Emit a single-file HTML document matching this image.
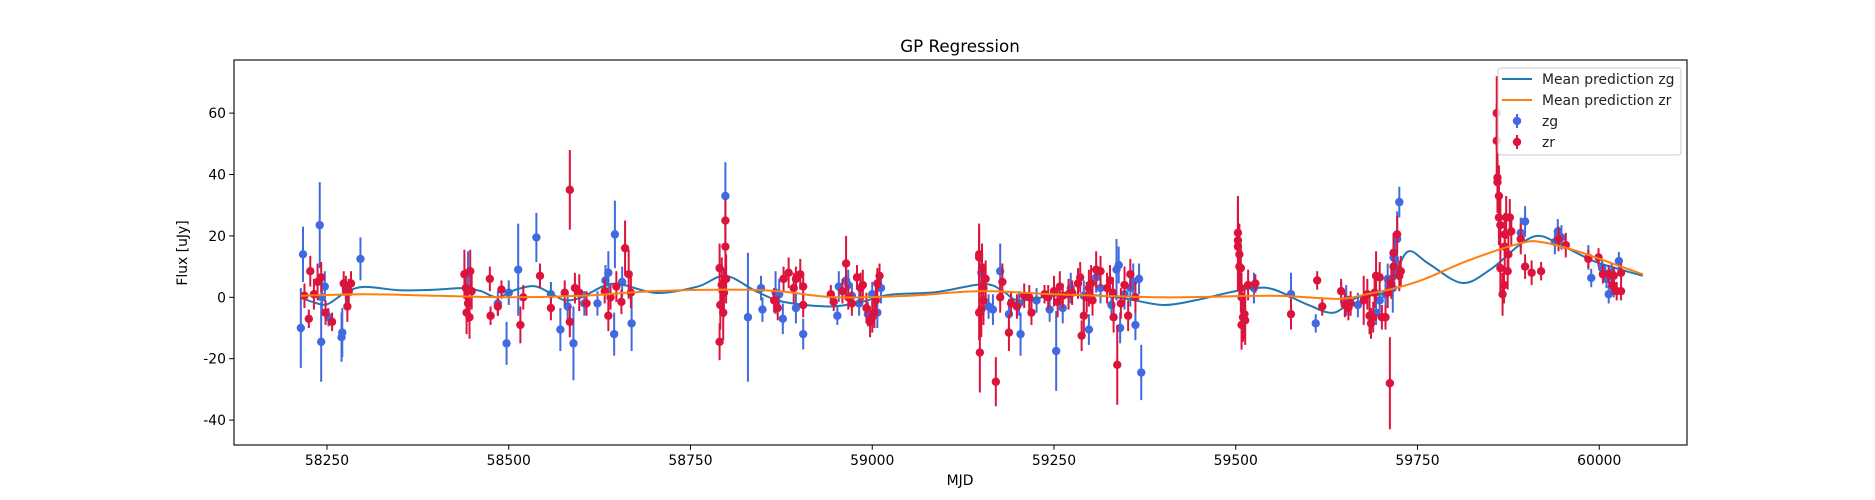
<!DOCTYPE html>
<html><head><meta charset="utf-8"><style>
html,body{margin:0;padding:0;background:#fff;}
svg{display:block;font-family:"DejaVu Sans","Liberation Sans",sans-serif;}
</style></head><body>
<svg id="chart" width="1875" height="500" viewBox="0 0 1875 500">
<rect x="0" y="0" width="1875" height="500" fill="#fff"/>
<text x="960" y="52" font-size="16.7" text-anchor="middle" fill="#000">GP Regression</text>
<g id="plot"></g>
<text x="960" y="485" font-size="13.9" text-anchor="middle">MJD</text>
<text transform="translate(187,253) rotate(-90)" font-size="13.9" text-anchor="middle">Flux [uJy]</text>
</svg>
<script>
const zgMjd=[58214,58217,58240,58242,58243,58247,58252,58270,58271,58276,58296,58444,58485,58497,58500,58513,58538,58558,58571,58581,58589,58604,58622,58633,58637,58645,58646,58656,58669,58798,58829,58847,58849,58867,58872,58877,58895,58905,58952,58954,58964,58967,58972,58982,58994,59000,59007,59012,59150,59160,59166,59176,59188,59202,59204,59226,59244,59253,59262,59273,59291,59298,59308,59314,59329,59336,59339,59341,59347,59355,59359,59362,59367,59370,59525,59576,59610,59645,59652,59668,59693,59698,59706,59709,59716,59717,59719,59722,59725,59892,59898,59939,59943,59948,59985,59989,60004,60010,60013,60017,60020,60027];
const zgFlux=[-10,14,23.5,-14.5,0,3.5,-6.5,-13,-11.5,2,12.5,8,-2,-15,1.5,9,19.5,1,-10.5,-3,-15,-2,-2,5.5,8,-12,20.5,5,-8.5,33,-6.5,3,-4,1.5,1,-7,-3.5,-12,-6,3.5,5.5,4,0.5,-2,-5.5,1,-5,3,8,-3,-4,8.5,-5.5,-2,-12,-1,-4,-17.5,-3.5,3,0.5,-10.5,6.5,3,-2.5,9,10.5,-10,1,3,5,-9,6,-24.5,3,1,-8.5,2,-1,-2.5,-5,-1,1,6,3,13,12.5,19,31,21,24.7,18,21.5,19.5,13,6.3,9.4,6,1,8,3,11.8];
const zgErr=[13,9,14,13,6,5,3,8,8,4,7,7,4,7,4,15,8,4,7,4,12,4,4,5,7,7,11,5,9,11,21,4,4,7,5,5,5,5,3,5,6,5,4,4,4,4,5,5,7,4,5,9,5,4,7,4,4,13,5,5,5,5,5,5,4,10,6,5,5,6,6,5,5,9,5,7,3,3,5,4,4,4,5,5,8,8,7,9,5,5,5,4,4,4,4,3,3,3,3,3,3,3];
const zrMjd=[58219,58225,58227,58232,58237,58242,58248,58257,58273,58276,58278,58280,58283,58439,58441,58442,58444,58446,58447,58449,58474,58475,58485,58490,58516,58520,58543,58558,58577,58584,58591,58597,58584,58607,58632,58637,58640,58655,58660,58665,58648,58668,58790,58790,58791,58793,58795,58796,58798,58798,58799,58865,58870,58878,58885,58892,58895,58901,58905,58905,58943,58947,58959,58964,58967,58972,58979,58984,58987,58992,58997,59000,59003,59005,59007,59010,59147,59147,59147,59148,59150,59151,59153,59156,59153,59170,59176,59179,59188,59191,59199,59209,59216,59219,59237,59242,59250,59255,59258,59262,59270,59275,59283,59286,59288,59291,59295,59298,59301,59303,59308,59314,59323,59327,59331,59332,59337,59342,59347,59352,59355,59362,59503,59503,59503,59505,59505,59507,59507,59508,59508,59510,59512,59513,59517,59527,59576,59612,59619,59645,59650,59655,59658,59676,59681,59684,59686,59689,59691,59693,59698,59701,59706,59709,59712,59714,59717,59717,59722,59725,59727,59859,59859,59860,59860,59862,59862,59864,59864,59867,59869,59870,59870,59872,59874,59875,59877,59879,59892,59898,59907,59920,59944,59954,59985,59999,60005,60013,60018,60020,60024,60030,60030];
const zrFlux=[0.5,-7,8.5,1,5,6.5,-5,-8,4.5,3,-3,2,4.5,7.5,3,-5,-2,-6.5,8.5,2,6,-6,-3,2.5,-9,0,7,-3.5,1.5,35,3,1.5,-8,-2,2,-6,0,-1.5,16,7.5,3.5,1.5,9.5,-14.5,-2.5,4,-5,1.5,25,16.5,6,-1,-3.5,6,8,3,6,7.5,3.5,-2.5,1,-1.5,2,11,0,-2,6.5,3,4,-3.5,-8,-6.5,-5,-1,4.5,7,14,13,-5,-18,-4,9.5,3,6,-1,-27.5,0,5,-11.5,-2,-3,0.5,0,-5,1,0,2,-1.5,3.5,0.5,1,1.5,4.5,6.5,-12.5,-6,0,3,4.5,-1,9,8.5,3,5.5,1.5,-6.5,-22,-2,4,-6,7.5,0,16.5,18.5,21,14,10,9.5,3,0,-9,-6.5,-5.5,-7.5,4,4.5,-5.5,5.5,-3,2,-2.5,-3.5,-2,-1,1,-6,-8.5,-6.5,1.5,7,6.5,-6.5,-6.5,1.5,-28,4.5,10,14.5,20.5,7,8.5,60,51,39,37.5,33,26,23.5,9.5,1,4,16.5,20.5,26,8.5,14,26,21.5,19,10,8,8.5,19,17,12.5,13,7.5,7.5,4,7,2,8,2];
const zrErr=[4,3,5,5,6,5,4,3,4,4,5,4,4,8,6,7,6,7,7,6,4,3,3,3,6,4,4,4,4,13,5,6,5,4,4,5,4,4,9,8,5,5,8,6,8,9,9,8,7,9,8,4,4,4,5,5,4,5,4,4,3,3,4,9,4,4,4,5,5,5,5,5,5,5,5,4,10,9,9,13,9,8,8,6,8,8,5,6,6,4,4,4,4,4,3,4,5,5,5,4,5,4,5,5,5,6,5,6,6,5,6,5,5,5,5,5,13,5,6,5,5,5,13,13,12,10,10,8,8,8,8,8,8,8,5,3,5,3,3,4,4,4,4,8,5,6,5,5,5,8,5,4,4,5,15,5,7,6,6,5,5,12,12,10,10,10,9,9,8,7,6,7,7,7,6,6,6,5,5,4,4,3,4,4,3,3,3,3,3,3,3,3,3];
const zgPredMjd=[58214,58230,58250,58275,58301,58350,58400,58437,58462,58484,58510,58536,58560,58578,58600,58634,58658,58704,58760,58798,58840,58878,58942,58985,59023,59088,59153,59180,59201,59250,59303,59350,59400,59444,59490,59525,59553,59600,59635,59667,59705,59720,59738,59765,59811,59850,59890,59915,59940,59990,60030,60060];
const zgPredFlux=[0,-1.5,-2.3,1.5,3.4,2.3,2.5,3,2,0,2.5,3.6,1,-1,0,4,4,1.4,3.5,7,2,-1.5,-3,-1.5,0.8,1.7,4.3,2,-1,0.5,0.7,-0.5,-2.5,-1,1.5,3,2.5,-2.5,-5,0,1.5,8,15,11,4.7,9,17,20,18,12,9,7];
const zrPredMjd=[58214,58300,58400,58500,58600,58700,58800,58870,58950,59050,59150,59250,59400,59550,59640,59680,59720,59760,59820,59890,59920,59970,60030,60060];
const zrPredFlux=[0.5,1,0.5,0,0.5,2,2.5,2,0,0.5,2,1,0,0.5,-0.5,1,3,6,12,17.5,18,15,10,7.5];
const xTicks=[58250,58500,58750,59000,59250,59500,59750,60000];
const yTicks=[-40,-20,0,20,40,60];

const NS="http://www.w3.org/2000/svg";
const L=234,R=1687,T=60,B=445;
const xs=m=>327+(m-58250)*0.7270;
const ys=v=>297.3-v*3.07;
const g=document.getElementById('plot');
function mk(tag,attrs,parent){const e=document.createElementNS(NS,tag);for(const k in attrs)e.setAttribute(k,attrs[k]);(parent||g).appendChild(e);return e;}

const clip=mk('clipPath',{id:'cp'});mk('rect',{x:L,y:T,width:R-L,height:B-T},clip);
function drawPoints(mj,fl,er,col,nm){
  const grp=mk('g',{'clip-path':'url(#cp)'});
  
  
  for(let i=0;i<mj.length;i++){
    const x=xs(mj[i]);
    const eb=mk('line',{x1:x,x2:x,y1:ys(fl[i]-er[i]),y2:ys(fl[i]+er[i]),stroke:col,'stroke-width':2},grp);
    
    
    const c=mk('circle',{cx:x,cy:ys(fl[i]),r:4.2,fill:col},grp);
    
    
  }
}
function smoothPath(mj,fl){
  const p=mj.map((m,i)=>[xs(m),ys(fl[i])]);
  let d='M'+p[0][0]+','+p[0][1];
  for(let i=0;i<p.length-1;i++){
    const p0=p[i-1]||p[i],p1=p[i],p2=p[i+1],p3=p[i+2]||p[i+1];
    const c1=[p1[0]+(p2[0]-p0[0])/6,p1[1]+(p2[1]-p0[1])/6];
    const c2=[p2[0]-(p3[0]-p1[0])/6,p2[1]-(p3[1]-p1[1])/6];
    d+=' C'+c1.join(',')+' '+c2.join(',')+' '+p2.join(',');
  }
  return d;
}
drawPoints(zgMjd,zgFlux,zgErr,'#4169e1','zg');
const lg=mk('path',{d:smoothPath(zgPredMjd,zgPredFlux),fill:'none',stroke:'#1f77b4','stroke-width':2,'clip-path':'url(#cp)'});


drawPoints(zrMjd,zrFlux,zrErr,'#dc143c','zr');
const lr=mk('path',{d:smoothPath(zrPredMjd,zrPredFlux),fill:'none',stroke:'#ff7f0e','stroke-width':2,'clip-path':'url(#cp)'});



const frame=mk('rect',{x:L,y:T,width:R-L,height:B-T,fill:'none',stroke:'#000','stroke-width':1.1});


xTicks.forEach(t=>{
  const x=xs(t);
  mk('line',{x1:x,x2:x,y1:B,y2:B+4.8,stroke:'#000','stroke-width':1});
  const tx=mk('text',{x:x,y:B+20,'font-size':13.9,'text-anchor':'middle'});
  tx.textContent=t;
  
  
});
yTicks.forEach(t=>{
  const y=ys(t);
  mk('line',{x1:L,x2:L-4.8,y1:y,y2:y,stroke:'#000','stroke-width':1});
  const tx=mk('text',{x:L-8,y:y+5,'font-size':13.9,'text-anchor':'end'});
  tx.textContent=t;
  
  
});

const leg=mk('g',{});


mk('rect',{x:1498,y:68,width:183,height:87,rx:3,fill:'#fff','fill-opacity':0.8,stroke:'#ccc'},leg);
const items=[['line','#1f77b4','Mean prediction zg'],['line','#ff7f0e','Mean prediction zr'],['pt','#4169e1','zg'],['pt','#dc143c','zr']];
items.forEach((it,i)=>{
  const y=79+i*21;
  const e=mk('g',{},leg);
  
  
  if(it[0]==='line'){mk('line',{x1:1502,x2:1532,y1:y,y2:y,stroke:it[1],'stroke-width':2},e);}
  else{mk('line',{x1:1517,x2:1517,y1:y-7,y2:y+7,stroke:it[1],'stroke-width':2},e);mk('circle',{cx:1517,cy:y,r:4.2,fill:it[1]},e);}
  const t=mk('text',{x:1542,y:y+5,'font-size':13.9,fill:'#222'},e);
  t.textContent=it[2];
});
</script>
</body></html>
